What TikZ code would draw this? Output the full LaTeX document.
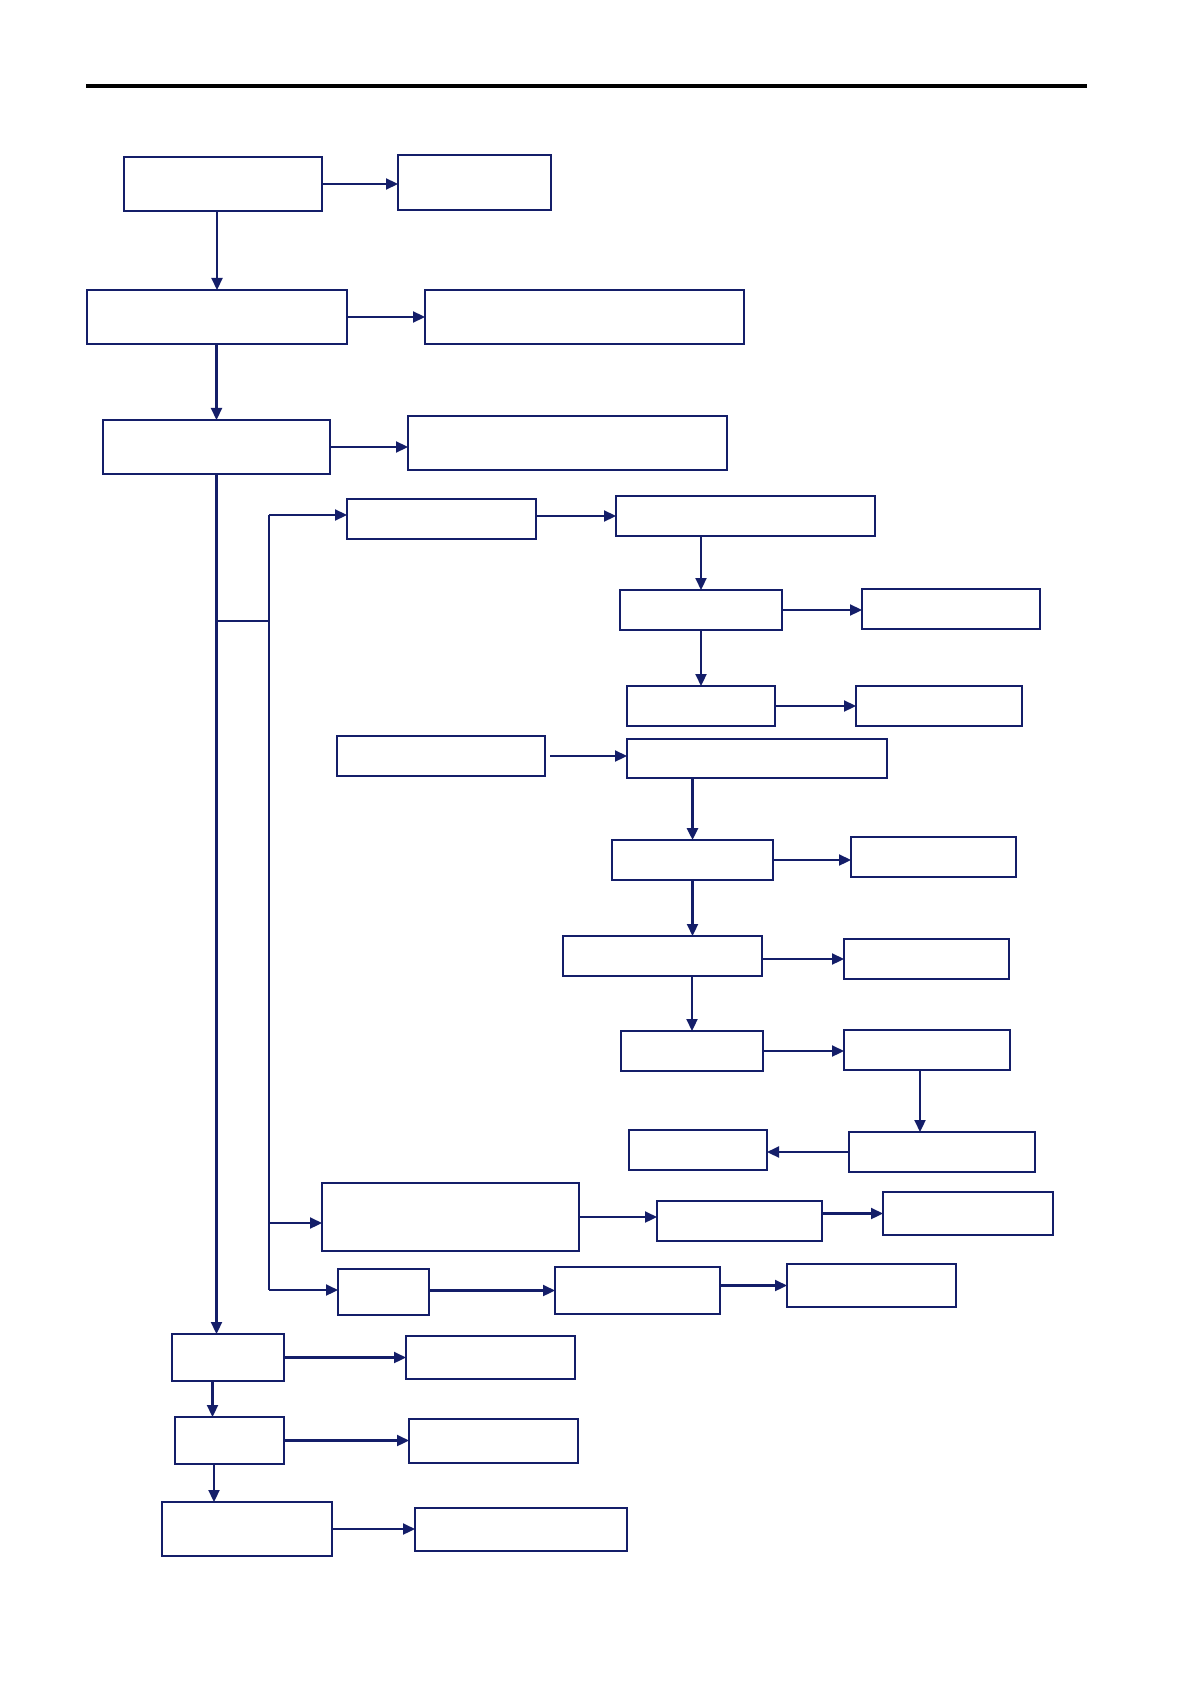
\documentclass[tikz,border=0pt]{standalone}
\usetikzlibrary{arrows.meta}
\definecolor{navy}{RGB}{20,30,105}
\newcommand\mybox[6]{\node[#6, anchor=north west, minimum width={(#4-#2)*0.5pt}, minimum height={(#5-#3)*0.5pt}] (#1) at (#2,#3) {};}
\tikzset{
  bxk/.style={draw=navy, line width=1.15pt, inner sep=0pt, outer sep=0pt, fill=white},
  bxn/.style={draw=navy, line width=0.7pt, inner sep=0pt, outer sep=0pt, fill=white},
  arr/.style={draw=navy, line width=1.1pt, -{Triangle[length=6pt,width=5.5pt]}},
  ln/.style={draw=navy, line width=0.9pt},
}
\begin{document}
\begin{tikzpicture}[x=0.5pt, y=-0.5pt]
\useasboundingbox (0,0) rectangle (1191,1684);
\fill[white] (0,0) rectangle (1191,1684);
% top rule
\coordinate (rl) at (86,86);
\coordinate (rr) at (1087,86);
\draw[black, line width=1.6pt] (rl) -- (rr);
% boxes
\mybox{A}{124}{157}{322}{211}{bxk}
\mybox{B}{398}{155}{551}{210}{bxk}
\mybox{C}{87}{290}{347}{344}{bxn}
\mybox{D}{425}{290}{744}{344}{bxk}
\mybox{E}{103}{420}{330}{474}{bxk}
\mybox{F}{408}{416}{727}{470}{bxk}
\mybox{G}{347}{499}{536}{539}{bxn}
\mybox{H}{616}{496}{875}{536}{bxk}
\mybox{I}{620}{590}{782}{630}{bxk}
\mybox{J}{862}{589}{1040}{629}{bxk}
\mybox{K}{627}{686}{775}{726}{bxn}
\mybox{L}{856}{686}{1022}{726}{bxk}
\mybox{M}{337}{736}{545}{776}{bxk}
\mybox{N}{627}{739}{887}{778}{bxn}
\mybox{O}{612}{840}{773}{880}{bxn}
\mybox{P}{851}{837}{1016}{877}{bxk}
\mybox{Q}{563}{936}{762}{976}{bxn}
\mybox{R}{844}{939}{1009}{979}{bxk}
\mybox{S}{621}{1031}{763}{1071}{bxn}
\mybox{T}{844}{1030}{1010}{1070}{bxk}
\mybox{U}{849}{1132}{1035}{1172}{bxk}
\mybox{V}{629}{1130}{767}{1170}{bxk}
\mybox{W}{322}{1183}{579}{1251}{bxn}
\mybox{X}{657}{1201}{822}{1241}{bxk}
\mybox{XX}{883}{1192}{1053}{1235}{bxk}
\mybox{SB}{338}{1269}{429}{1315}{bxn}
\mybox{SC}{555}{1267}{720}{1314}{bxk}
\mybox{SD}{787}{1264}{956}{1307}{bxk}
\mybox{Y}{172}{1334}{284}{1381}{bxk}
\mybox{Z}{406}{1336}{575}{1379}{bxk}
\mybox{AA}{175}{1417}{284}{1464}{bxk}
\mybox{AB}{409}{1419}{578}{1463}{bxn}
\mybox{AC}{162}{1502}{332}{1556}{bxk}
\mybox{AD}{415}{1508}{627}{1551}{bxk}
% branch coordinates
\coordinate (bt) at (269,515);
\coordinate (bj) at (269,621);
\coordinate (bw) at (269,1223);
\coordinate (bb) at (269,1290);
% connectors
\draw[arr] (A.east) -- (A.east -| B.west);
\draw[arr] (C.north |- A.south) -- (C.north);
\draw[arr] (C.east) -- (C.east -| D.west);
\draw[arr] (E.north |- C.south) -- (E.north);
\draw[arr] (E.east) -- (E.east -| F.west);
\draw[arr] (E.south) -- (E.south |- Y.north);
\draw[ln] (bt) -- (bb);
\draw[ln] (E.south |- bj) -- (bj);
\draw[arr] (bt) -- (bt -| G.west);
\draw[arr] (bw) -- (bw -| W.west);
\draw[arr] (bb) -- (bb -| SB.west);
\draw[arr] (H.west -| G.east) -- (H.west);
\draw[arr] (I.north |- H.south) -- (I.north);
\draw[arr] (I.east) -- (I.east -| J.west);
\draw[arr] (K.north |- I.south) -- (K.north);
\draw[arr] (K.east) -- (K.east -| L.west);
\draw[arr, shorten <=2.5pt] (M.east) -- (M.east -| N.west);
\draw[arr, line width=1.7pt] (O.north |- N.south) -- (O.north);
\draw[arr] (O.east) -- (O.east -| P.west);
\draw[arr] (O.south) -- (O.south |- Q.north);
\draw[arr] (R.west -| Q.east) -- (R.west);
\draw[arr] (S.north |- Q.south) -- (S.north);
\draw[arr] (S.east) -- (S.east -| T.west);
\draw[arr] ([xshift=-3.5pt]T.south) -- ([xshift=-3.5pt]T.south |- U.north);
\draw[arr] (U.west) -- (U.west -| V.east);
\draw[arr] (W.east) -- (W.east -| X.west);
\draw[arr] (XX.west -| X.east) -- (XX.west);
\draw[arr] (SC.west -| SB.east) -- (SC.west);
\draw[arr] (SD.west -| SC.east) -- (SD.west);
\draw[arr] (Y.east) -- (Y.east -| Z.west);
\draw[arr] ([xshift=-8.5pt]AA.north |- Y.south) -- ([xshift=-8.5pt]AA.north);
\draw[arr] (AA.east) -- (AA.east -| AB.west);
\draw[arr] ([xshift=-7.75pt]AA.south) -- ([xshift=-7.75pt]AA.south |- AC.north);
\draw[arr] (AC.east) -- (AC.east -| AD.west);
\end{tikzpicture}
\end{document}
